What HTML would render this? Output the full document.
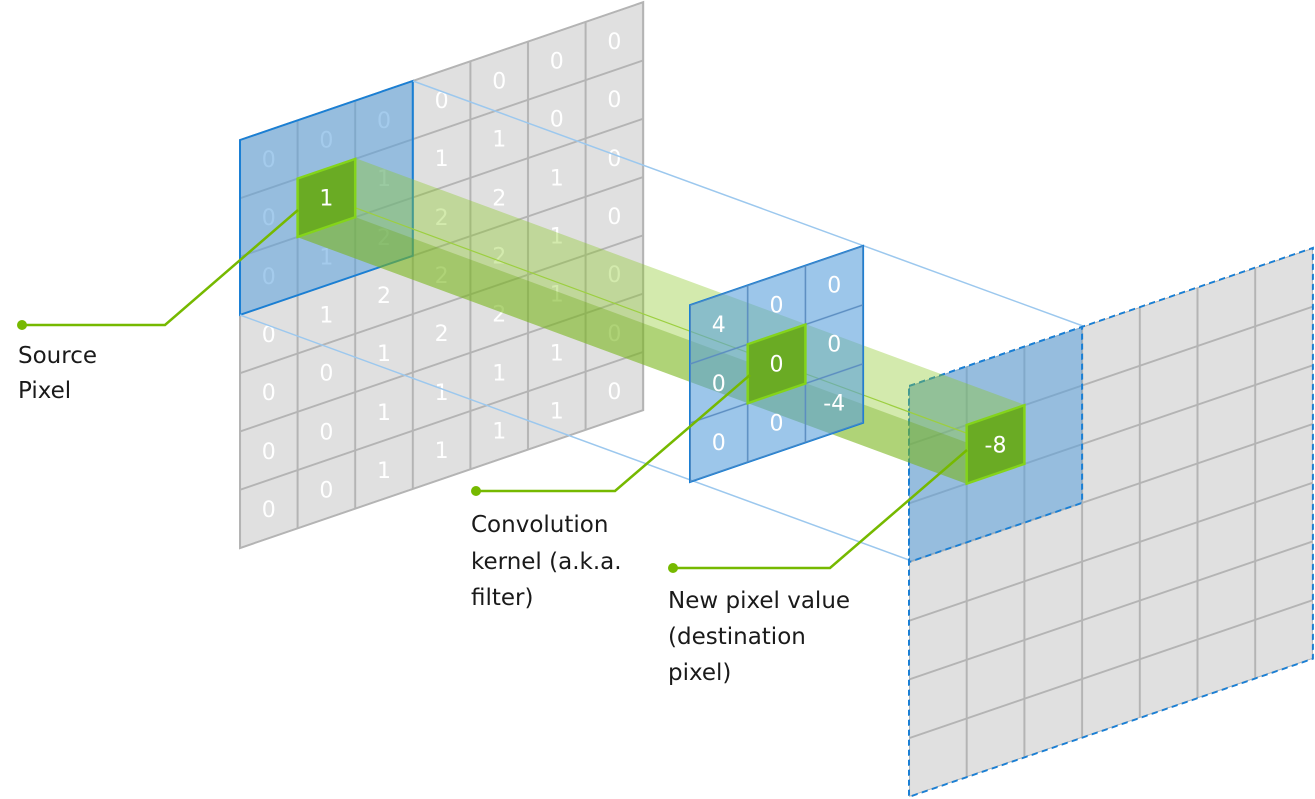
<!DOCTYPE html>
<html><head><meta charset="utf-8"><style>
html,body{margin:0;padding:0;background:#fff;}
svg{display:block;}
.n{font-family:"DejaVu Sans","Liberation Sans",sans-serif;font-size:22px;fill:#fff;text-anchor:middle;}
.l{font-family:"DejaVu Sans","Liberation Sans",sans-serif;font-size:23px;fill:#1a1a1a;}
</style></head><body>
<svg width="1315" height="799" viewBox="0 0 1315 799" xmlns="http://www.w3.org/2000/svg">
<defs>
<pattern id="gs" width="57.6" height="58.3" patternUnits="userSpaceOnUse"><rect width="57.6" height="58.3" fill="#e0e0e0" stroke="#b4b4b4" stroke-width="2"/></pattern>
<pattern id="gd" width="57.7" height="58.7" patternUnits="userSpaceOnUse"><rect width="57.7" height="58.7" fill="#e0e0e0" stroke="#b4b4b4" stroke-width="2"/></pattern>
<pattern id="gk" width="57.7" height="59" patternUnits="userSpaceOnUse"><rect width="57.7" height="59" fill="none" stroke="#5a8cc0" stroke-width="1.5"/></pattern>
</defs>

<!-- SOURCE GRID -->
<g transform="translate(240,140) skewY(-18.88)">
<rect x="0" y="0" width="403.2" height="408.1" fill="url(#gs)" stroke="#b4b4b4" stroke-width="2"/>
<g class="n">
<!-- row0 -->
<text transform="translate(28.8,37) skewY(18.88)">0</text>
<text transform="translate(86.4,37) skewY(18.88)">0</text>
<text transform="translate(144,37) skewY(18.88)">0</text>
<text transform="translate(201.6,37) skewY(18.88)">0</text>
<text transform="translate(259.2,37) skewY(18.88)">0</text>
<text transform="translate(316.8,37) skewY(18.88)">0</text>
<text transform="translate(374.4,37) skewY(18.88)">0</text>
<!-- row1 -->
<text transform="translate(28.8,95) skewY(18.88)">0</text>
<text transform="translate(144,95) skewY(18.88)">1</text>
<text transform="translate(201.6,95) skewY(18.88)">1</text>
<text transform="translate(259.2,95) skewY(18.88)">1</text>
<text transform="translate(316.8,95) skewY(18.88)">0</text>
<text transform="translate(374.4,95) skewY(18.88)">0</text>
<!-- row2 -->
<text transform="translate(28.8,154) skewY(18.88)">0</text>
<text transform="translate(86.4,154) skewY(18.88)">1</text>
<text transform="translate(144,154) skewY(18.88)">2</text>
<text transform="translate(201.6,154) skewY(18.88)">2</text>
<text transform="translate(259.2,154) skewY(18.88)">2</text>
<text transform="translate(316.8,154) skewY(18.88)">1</text>
<text transform="translate(374.4,154) skewY(18.88)">0</text>
<!-- row3 -->
<text transform="translate(28.8,212) skewY(18.88)">0</text>
<text transform="translate(86.4,212) skewY(18.88)">1</text>
<text transform="translate(144,212) skewY(18.88)">2</text>
<text transform="translate(201.6,212) skewY(18.88)">2</text>
<text transform="translate(259.2,212) skewY(18.88)">2</text>
<text transform="translate(316.8,212) skewY(18.88)">1</text>
<text transform="translate(374.4,212) skewY(18.88)">0</text>
<!-- row4 -->
<text transform="translate(28.8,270) skewY(18.88)">0</text>
<text transform="translate(86.4,270) skewY(18.88)">0</text>
<text transform="translate(144,270) skewY(18.88)">1</text>
<text transform="translate(201.6,270) skewY(18.88)">2</text>
<text transform="translate(259.2,270) skewY(18.88)">2</text>
<text transform="translate(316.8,270) skewY(18.88)">1</text>
<text transform="translate(374.4,270) skewY(18.88)">0</text>
<!-- row5 -->
<text transform="translate(28.8,329) skewY(18.88)">0</text>
<text transform="translate(86.4,329) skewY(18.88)">0</text>
<text transform="translate(144,329) skewY(18.88)">1</text>
<text transform="translate(201.6,329) skewY(18.88)">1</text>
<text transform="translate(259.2,329) skewY(18.88)">1</text>
<text transform="translate(316.8,329) skewY(18.88)">1</text>
<text transform="translate(374.4,329) skewY(18.88)">0</text>
<!-- row6 -->
<text transform="translate(28.8,387) skewY(18.88)">0</text>
<text transform="translate(86.4,387) skewY(18.88)">0</text>
<text transform="translate(144,387) skewY(18.88)">1</text>
<text transform="translate(201.6,387) skewY(18.88)">1</text>
<text transform="translate(259.2,387) skewY(18.88)">1</text>
<text transform="translate(316.8,387) skewY(18.88)">1</text>
<text transform="translate(374.4,387) skewY(18.88)">0</text>
</g>
<rect x="0" y="0" width="172.8" height="174.9" fill="rgba(90,160,220,0.55)" stroke="#1a7fd4" stroke-width="2"/>
</g>

<!-- projection lines -->
<line x1="413" y1="81" x2="1083" y2="326" stroke="#9cc8ee" stroke-width="1.5"/>
<line x1="240" y1="315" x2="909" y2="560" stroke="#9cc8ee" stroke-width="1.5"/>

<!-- DEST GRID -->
<g transform="translate(909,386) skewY(-18.88)">
<rect x="0" y="0" width="403.9" height="410.9" fill="url(#gd)" stroke="#1a7fd4" stroke-width="2" stroke-dasharray="6,4"/>
<rect x="0" y="0" width="173.1" height="176.1" fill="rgba(90,160,220,0.55)" stroke="#1a7fd4" stroke-width="2" stroke-dasharray="6,4"/>
</g>

<!-- BEAM -->
<polygon points="355,158 1025,405 1025,464 967,484 297,237 297,178" fill="rgba(140,200,40,0.38)"/>
<polygon points="297,237 355,217 1025,464 967,484" fill="rgba(110,170,20,0.35)"/>
<line x1="326" y1="197" x2="996" y2="444" stroke="#9ccf40" stroke-width="1.2"/>

<!-- KERNEL -->
<g transform="translate(690,305) skewY(-18.88)">
<rect x="0" y="0" width="173.1" height="177" fill="rgba(90,160,220,0.6)" stroke="#1a7fd4" stroke-width="2"/>
<rect x="0" y="0" width="173.1" height="177" fill="url(#gk)"/>
<g class="n">
<text transform="translate(28.8,37) skewY(18.88)">4</text>
<text transform="translate(86.5,37) skewY(18.88)">0</text>
<text transform="translate(144.2,37) skewY(18.88)">0</text>
<text transform="translate(28.8,96) skewY(18.88)">0</text>
<text transform="translate(144.2,96) skewY(18.88)">0</text>
<text transform="translate(28.8,155) skewY(18.88)">0</text>
<text transform="translate(86.5,155) skewY(18.88)">0</text>
<text transform="translate(144.2,155) skewY(18.88)">-4</text>
</g>
<rect x="57.7" y="59" width="57.7" height="59" fill="#6aab24" stroke="#84d41a" stroke-width="2.5"/>
<text class="n" transform="translate(86.5,96) skewY(18.88)">0</text>
</g>

<!-- source green pixel -->
<g transform="translate(240,140) skewY(-18.88)">
<rect x="57.6" y="58.3" width="57.6" height="58.3" fill="#6aab24" stroke="#84d41a" stroke-width="2.5"/>
<text class="n" transform="translate(86.4,95) skewY(18.88)">1</text>
</g>
<!-- dest green pixel -->
<g transform="translate(909,386) skewY(-18.88)">
<rect x="57.7" y="58.7" width="57.7" height="58.7" fill="#6aab24" stroke="#84d41a" stroke-width="2.5"/>
<text class="n" transform="translate(86.5,96) skewY(18.88)">-8</text>
</g>

<!-- callouts -->
<g stroke="#76b900" stroke-width="2.5" fill="none">
<polyline points="22,325 165,325 298,210"/>
<polyline points="476,491 615,491 750,375"/>
<polyline points="673,568 830,568 967,450"/>
</g>
<g fill="#76b900">
<circle cx="22" cy="325" r="5"/>
<circle cx="476" cy="491" r="5"/>
<circle cx="673" cy="568" r="5"/>
</g>
<text class="l" x="18" y="363">Source</text>
<text class="l" x="18" y="398">Pixel</text>
<text class="l" x="471" y="532">Convolution</text>
<text class="l" x="471" y="569">kernel (a.k.a.</text>
<text class="l" x="471" y="605">filter)</text>
<text class="l" x="668" y="608">New pixel value</text>
<text class="l" x="668" y="644">(destination</text>
<text class="l" x="668" y="680">pixel)</text>
</svg>
</body></html>
